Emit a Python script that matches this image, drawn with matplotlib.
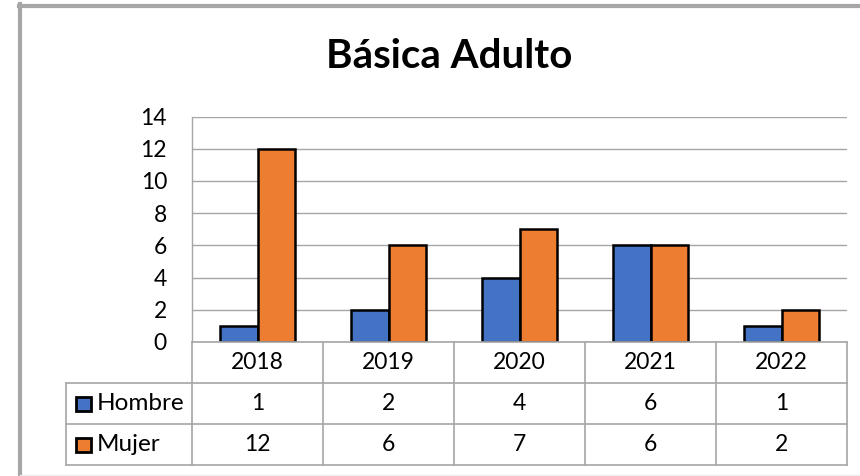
import matplotlib
matplotlib.use("Agg")
import matplotlib.pyplot as plt
from matplotlib.patches import Rectangle
from matplotlib.lines import Line2D

categories = ["2018", "2019", "2020", "2021", "2022"]
series_names = ["Hombre", "Mujer"]
hombre = [1, 2, 4, 6, 1]
mujer = [12, 6, 7, 6, 2]
yticks = [0, 2, 4, 6, 8, 10, 12, 14]
title = "Básica Adulto"

BLUE = "#4472C4"
ORANGE = "#ED7D31"
GRID = "#A6A6A6"
FONT = ["Lato", "DejaVu Sans"]
plt.rcParams['font.family'] = FONT
FS = 16.5

W, H = 860, 476
fig = plt.figure(figsize=(W / 100, H / 100), dpi=100)

def fx(px):
    return px / W

def fy(py):
    return 1 - py / H

# outer frame (left and top, gray)
fig.add_artist(Line2D([fx(20), fx(20)], [fy(4), fy(476)], color="#A6A6A6", lw=3, transform=fig.transFigure))
fig.add_artist(Line2D([fx(18.5), fx(860)], [fy(5.5), fy(5.5)], color="#A6A6A6", lw=3, transform=fig.transFigure))
fig.add_artist(Line2D([fx(20), fx(860)], [fy(474.5), fy(474.5)], color="#EEEEEE", lw=1, transform=fig.transFigure))

# plot area
L, R, T, B = 192, 847, 116.5, 342
ax = fig.add_axes([fx(L), fy(B), fx(R) - fx(L), fy(T) - fy(B)])
n = len(categories)
x = [i + 0.5 for i in range(n)]
bw = 0.286
ax.bar([v - bw / 2 for v in x], hombre, width=bw, color=BLUE, edgecolor="black", linewidth=1.8, zorder=3)
ax.bar([v + bw / 2 for v in x], mujer, width=bw, color=ORANGE, edgecolor="black", linewidth=1.8, zorder=3)
ax.set_xlim(0, n)
ax.set_ylim(0, 14)
ax.set_yticks(yticks)
ax.set_yticklabels([str(t) for t in yticks], fontsize=FS)
ax.tick_params(axis="y", length=0, pad=18)
ax.set_xticks([])
ax.grid(axis="y", color=GRID, lw=1, zorder=0)
for s in ["top", "right", "bottom"]:
    ax.spines[s].set_visible(False)
ax.spines["left"].set_color(GRID)
ax.spines["left"].set_linewidth(1)

# title
fig.text(fx(449), fy(68), title, ha="center", va="baseline", fontsize=29, fontweight="bold")

# data table
TL, TT, TB = 66, 342, 465
tax = fig.add_axes([fx(TL), fy(TB), fx(R) - fx(TL), fy(TT) - fy(TB)])
lab_w = (L - TL) / ((R - L) / n)
tax.set_xlim(-lab_w, n)
tax.set_ylim(3, 0)
tax.axis("off")
lk = dict(color=GRID, lw=1.2, clip_on=False)
tax.plot([0, n], [0, 0], **lk)
for r in (1, 2, 3):
    tax.plot([-lab_w, n], [r, r], **lk)
for c in range(n + 1):
    tax.plot([c, c], [0, 3], **lk)
tax.plot([-lab_w, -lab_w], [1, 3], **lk)

for i, cat in enumerate(categories):
    tax.text(i + 0.5, 0.5, cat, ha="center", va="center", fontsize=FS)
    tax.text(i + 0.5, 1.5, str(hombre[i]), ha="center", va="center", fontsize=FS)
    tax.text(i + 0.5, 2.5, str(mujer[i]), ha="center", va="center", fontsize=FS)

for r, (name, col) in enumerate(zip(series_names, [BLUE, ORANGE])):
    yc = 1.5 + r
    fig_y = fy(TT + (TB - TT) * yc / 3)
    fig.add_artist(Rectangle((fx(75.5), fig_y - 7 / H), 15 / W, 14 / H, facecolor=col,
                             edgecolor="black", lw=2, transform=fig.transFigure))
    fig.text(fx(97), fig_y, name, ha="left", va="center", fontsize=17.5)

fig.savefig("out.png", dpi=100)
